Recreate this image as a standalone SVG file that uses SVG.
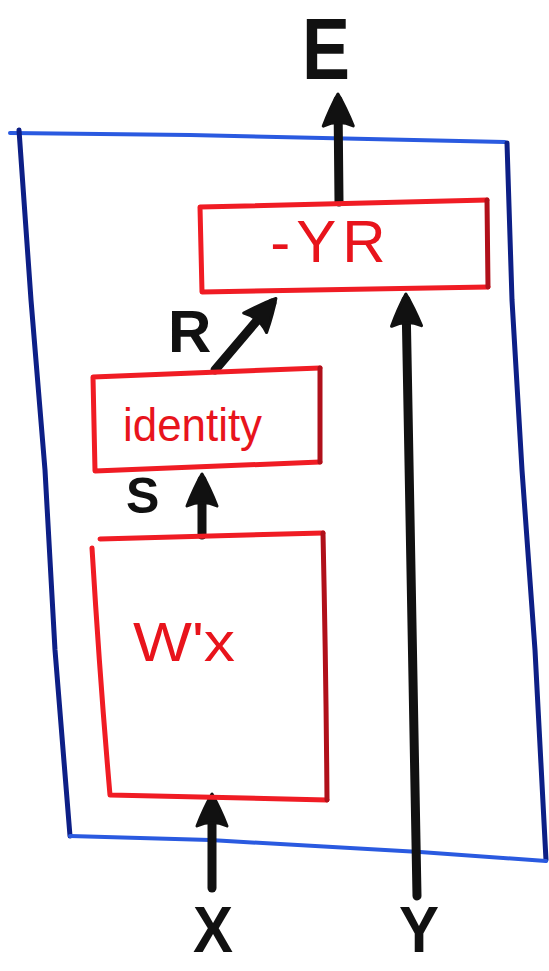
<svg xmlns="http://www.w3.org/2000/svg" width="549" height="971" viewBox="0 0 549 971">
  <style>
    .frameH { fill: none; stroke: #2a5ae0; stroke-width: 4; stroke-linecap: round; stroke-linejoin: round; }
    .frameV { fill: none; stroke: #0d1f86; stroke-width: 5; stroke-linecap: round; stroke-linejoin: round; }
    .box { fill: none; stroke: #f01c24; stroke-width: 5; stroke-linecap: round; stroke-linejoin: round; }
    .boxDark { fill: none; stroke: #b0101a; stroke-width: 5; stroke-linecap: round; stroke-linejoin: round; }
    .conn { fill: none; stroke: #111; stroke-width: 9; stroke-linecap: round; marker-end: url(#head); }
    .lbl { font-family: "Liberation Sans", Arial, sans-serif; font-weight: bold; fill: #111; }
    .red { font-family: "Liberation Sans", Arial, sans-serif; fill: #e8141c; }
  </style>
  <defs>
    <marker id="head" markerUnits="userSpaceOnUse" markerWidth="44" markerHeight="44" viewBox="-34 -22 44 44" refX="0" refY="0" orient="auto">
      <path d="M6,0 Q-8,-8 -26,-15 Q-19,0 -26,15 Q-8,8 6,0 Z" fill="#111" stroke="#111" stroke-width="3" stroke-linejoin="round"/>
    </marker>
  </defs>

  <g id="frame">
    <path class="frameH" d="M10,133 L190,135 L505,142"/>
    <path class="frameV" d="M19,130 L31,300 L45,470 L55,650 L70,836"/>
    <path class="frameV" d="M507,143 L512,300 L522,470 L535,650 L546,860"/>
    <path class="frameH" d="M70,836 L210,840 L420,852 L546,861"/>
  </g>

  <g id="connectors">
    <path id="c-E" class="conn" d="M339,202 L338,100"/>
    <path id="c-R" class="conn" d="M215,370 L272,303"/>
    <path id="c-S" class="conn" d="M202,535 L202,480"/>
    <path id="c-X" class="conn" d="M212,888 L212,800"/>
    <path id="c-Y" class="conn" d="M417,896 Q412,600 406,300"/>
  </g>

  <g id="node-yr">
    <path class="box" d="M200,207 L487,200 M202,292 L488,287 M200,207 L202,292"/>
    <path class="boxDark" d="M487,200 L488,287"/>
    <text class="red" x="331" y="262" font-size="60" text-anchor="middle" letter-spacing="6">-YR</text>
  </g>

  <g id="node-identity">
    <path class="box" d="M93,377 L320,368 M95,471 L320,462 M93,377 L95,471"/>
    <path class="boxDark" d="M320,368 L320,462"/>
    <text class="red" x="123" y="441" font-size="46" textLength="139" lengthAdjust="spacingAndGlyphs">identity</text>
  </g>

  <g id="node-wx">
    <path class="box" d="M100,539 L323,533 M92,548 Q100,680 110,795 L327,800"/>
    <path class="boxDark" d="M323,533 Q326,670 327,800"/>
    <text class="red" x="133" y="661" font-size="56" textLength="102" lengthAdjust="spacingAndGlyphs">W'x</text>
  </g>

  <g id="labels">
    <text class="lbl" x="302" y="79" font-size="88" textLength="48" lengthAdjust="spacingAndGlyphs">E</text>
    <text class="lbl" x="168" y="352" font-size="60">R</text>
    <text class="lbl" x="126" y="513" font-size="50">S</text>
    <text class="lbl" x="193" y="952" font-size="64" textLength="40" lengthAdjust="spacingAndGlyphs">X</text>
    <text class="lbl" x="399" y="952" font-size="64" textLength="40" lengthAdjust="spacingAndGlyphs">Y</text>
  </g>
</svg>
